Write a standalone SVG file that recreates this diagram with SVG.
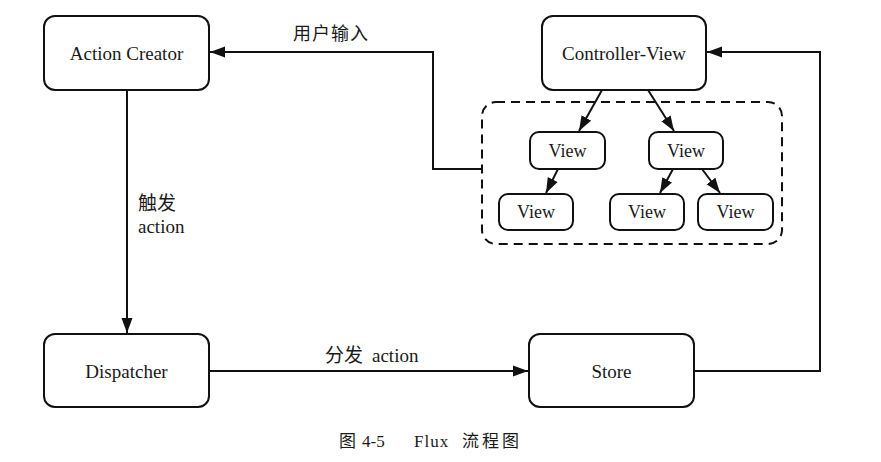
<svg xmlns="http://www.w3.org/2000/svg" width="881" height="462" viewBox="0 0 881 462">
<defs>
<style>
.box{fill:#fff;stroke:#111;stroke-width:2}
.dash{fill:none;stroke:#111;stroke-width:2;stroke-dasharray:9 6}
.ln{fill:none;stroke:#111;stroke-width:2}
.t{font-family:"Liberation Serif","Noto Sans CJK SC",serif;font-size:19px;fill:#1a1a1a;text-anchor:middle}
.v{font-size:18px}
.c{font-family:"Liberation Serif","Noto Sans CJK SC",serif;font-size:17px;fill:#1a1a1a}
</style>
<marker id="ah" markerUnits="userSpaceOnUse" markerWidth="16" markerHeight="12" refX="15" refY="6" orient="auto">
<path d="M0,0.5 L15,6 L0,11.5 z" fill="#111"/>
</marker>
</defs>
<rect width="881" height="462" fill="#fff"/>

<g id="connectors">
<path class="ln" d="M694,371 H820 V52 H707" marker-end="url(#ah)"/>
<path class="ln" d="M482,169 H433 V52 H210" marker-end="url(#ah)"/>
<path class="ln" d="M127,90 V333" marker-end="url(#ah)"/>
<path class="ln" d="M209,371 H528" marker-end="url(#ah)"/>
<path class="ln" d="M602,90 L579,131" marker-end="url(#ah)"/>
<path class="ln" d="M648,90 L674,131" marker-end="url(#ah)"/>
<path class="ln" d="M558,169 L546,193" marker-end="url(#ah)"/>
<path class="ln" d="M673,169 L660,193" marker-end="url(#ah)"/>
<path class="ln" d="M702,169 L720,193" marker-end="url(#ah)"/>
<text class="t" x="331" y="40" style="font-size:18px;letter-spacing:1px">用户输入</text>
<text class="t" x="138" y="210" style="text-anchor:start">触发</text>
<text class="t" x="138" y="233" style="text-anchor:start">action</text>
<text class="t" x="325" y="362" style="text-anchor:start">分发 <tspan x="372">action</tspan></text>
</g>

<g id="view-group">
<rect class="dash" x="482" y="102" width="300" height="142" rx="14"/>
</g>

<g id="action-creator">
<rect class="box" x="44" y="16" width="165" height="74" rx="11"/>
<text class="t" x="126.5" y="60">Action Creator</text>
</g>
<g id="controller-view">
<rect class="box" x="542" y="16" width="164" height="74" rx="11"/>
<text class="t" x="624" y="60">Controller-View</text>
</g>
<g id="dispatcher">
<rect class="box" x="44" y="334" width="165" height="73" rx="11"/>
<text class="t" x="126.5" y="378">Dispatcher</text>
</g>
<g id="store">
<rect class="box" x="529" y="334" width="165" height="73" rx="11"/>
<text class="t" x="611.5" y="378">Store</text>
</g>
<g id="view1">
<rect class="box" x="530" y="132" width="75" height="37" rx="9"/>
<text class="t v" x="567.5" y="157">View</text>
</g>
<g id="view2">
<rect class="box" x="649" y="132" width="74" height="37" rx="9"/>
<text class="t v" x="686" y="157">View</text>
</g>
<g id="view3">
<rect class="box" x="499" y="194" width="74" height="36" rx="9"/>
<text class="t v" x="536" y="218">View</text>
</g>
<g id="view4">
<rect class="box" x="610" y="194" width="74" height="36" rx="9"/>
<text class="t v" x="647" y="218">View</text>
</g>
<g id="view5">
<rect class="box" x="698" y="194" width="75" height="36" rx="9"/>
<text class="t v" x="735.5" y="218">View</text>
</g>

<g id="caption">
<text class="c" x="339" y="447">图<tspan x="362">4-5</tspan><tspan x="414" style="letter-spacing:1px">Flux</tspan><tspan x="462" style="letter-spacing:3px">流程图</tspan></text>
</g>
</svg>
